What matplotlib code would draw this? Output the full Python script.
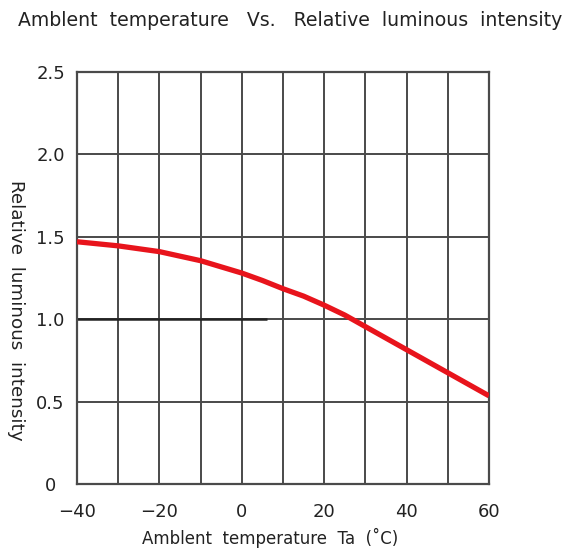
import numpy as np
import matplotlib
matplotlib.use("Agg")
import matplotlib.pyplot as plt

# Curve
temps = [-40, -30, -20, -10, 0, 5, 10, 15, 20, 25, 30, 40, 50, 60]
intensity = [1.47, 1.445, 1.41, 1.355, 1.28, 1.235, 1.185, 1.14, 1.085, 1.025, 0.955, 0.815, 0.675, 0.535]

xTicks = [-40, -20, 0, 20, 40, 60]
xTickLabels = ["\u221240", "\u221220", "0", "20", "40", "60"]
yTicks = [0, 0.5, 1.0, 1.5, 2.0, 2.5]
yTickLabels = ["0", "0.5", "1.0", "1.5", "2.0", "2.5"]

gridCol = "#4a4a4a"
textCol = "#222222"

fig = plt.figure(figsize=(5.75, 5.51), dpi=100)
ax = fig.add_axes([77 / 575, 1 - 484 / 551, 412 / 575, 412 / 551])

ax.set_xlim(-40, 60)
ax.set_ylim(0, 2.5)

# grid every 10 degrees and every 0.5
for x in range(-30, 60, 10):
    ax.axvline(x, color=gridCol, lw=1.4, zorder=1)
for y in [0.5, 1.0, 1.5, 2.0]:
    ax.axhline(y, color=gridCol, lw=1.4, zorder=1)
# darker stroke on the 1.0 line as in the scan
ax.hlines(1.0, -40, 6, color="#222222", lw=1.8, zorder=1)

ax.plot(temps, intensity, color="#e8141c", lw=3.8, solid_capstyle="butt",
        solid_joinstyle="round", zorder=3)

for s in ax.spines.values():
    s.set_color(gridCol)
    s.set_linewidth(1.6)

ax.set_xticks(xTicks)
ax.set_xticklabels(xTickLabels)
ax.set_yticks(yTicks)
ax.set_yticklabels(yTickLabels, ha="center")
ax.tick_params(length=0, labelsize=13, colors=textCol)
ax.tick_params(axis="x", pad=14)
ax.tick_params(axis="y", pad=19)

fig.text(290 / 575, 1 - 20 / 551, "Amblent  temperature   Vs.   Relative  luminous  intensity",
         ha="center", va="center", fontsize=13.6, color=textCol)
fig.text(270 / 575, 1 - 538 / 551, "Amblent  temperature  Ta  (\u02daC)",
         ha="center", va="center", fontsize=12, color=textCol)
fig.text(16 / 575, 1 - 310 / 551, "Relative  luminous  intensity",
         ha="center", va="center", rotation=-90, fontsize=13.2, color=textCol)

fig.savefig("out.png", dpi=100)
